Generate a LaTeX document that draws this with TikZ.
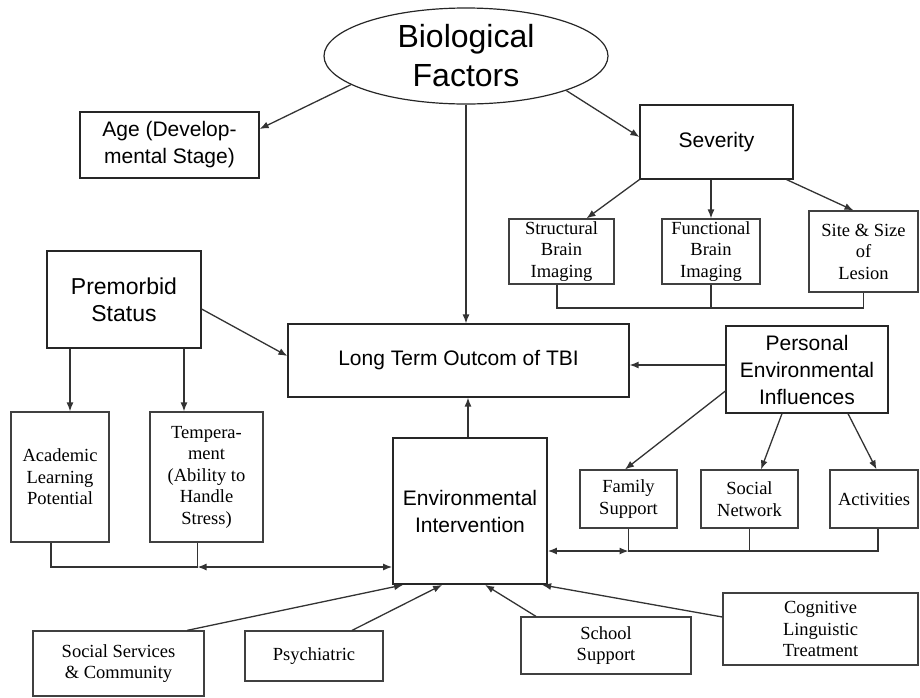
\documentclass[tikz,border=0pt]{standalone}
\usepackage{fontspec}
\setmainfont{Liberation Serif}
\setsansfont{Liberation Sans}
\usetikzlibrary{arrows.meta,shapes.geometric,calc}
\tikzstyle{factor}=[draw=black!85,line width=1.2pt,inner sep=0pt,align=center,font=\sffamily\fontsize{21}{27}\selectfont]
\tikzstyle{detail}=[factor,draw=black!75,font=\rmfamily\fontsize{18.5}{21.5}\selectfont]
\tikzstyle{wire}=[line width=1.3pt,draw=black!80]
\tikzstyle{link}=[wire,-{Latex[length=9pt,width=7pt]}]
\tikzstyle{both}=[wire,{Latex[length=9pt,width=7pt]}-{Latex[length=9pt,width=7pt]}]

\begin{document}
\begin{tikzpicture}[x=1pt,y=-1pt]
\useasboundingbox (0,0) rectangle (920,697);
        % main factors
        \node[factor,ellipse,inner sep=-10pt,minimum width=284pt,minimum height=96pt,font=\sffamily\fontsize{32}{39}\selectfont] (bio) at (466,56) {Biological\\Factors};
        \node[factor,minimum width=179pt,minimum height=66pt] (age) at (169.5,145) {Age (Develop-\\mental Stage)};
        \node[factor,minimum width=153pt,minimum height=74pt] (sev) at (716.5,142) {Severity};
        \node[factor,minimum width=154pt,minimum height=97pt,font=\sffamily\fontsize{23}{27}\selectfont] (prem) at (124,299.5) {Premorbid\\Status};
        \node[factor,minimum width=341pt,minimum height=73pt] (ltoc) at (458.5,360.5) {Long Term Outcom of TBI};
        \node[factor,minimum width=162pt,minimum height=87pt] (pers) at (807,369.5) {Personal\\Environmental\\Influences};
        \node[factor,line width=1.8pt,minimum width=154pt,minimum height=146pt] (envi) at (470,511) {Environmental\\Intervention};
        % details
        \node[detail,minimum width=105pt,minimum height=65pt] (struct) at (561.5,251.5) {Structural\\Brain\\Imaging};
        \node[detail,minimum width=98pt,minimum height=65pt] (func) at (711,251.5) {Functional\\Brain\\Imaging};
        \node[detail,minimum width=109pt,minimum height=81pt] (site) at (863.5,251.5) {Site \& Size\\of\\Lesion};
        \node[detail,minimum width=98pt,minimum height=130pt] (acad) at (60,477) {Academic\\Learning\\Potential};
        \node[detail,minimum width=113pt,minimum height=130pt] (temp) at (206.5,477) {Tempera-\\ment\\(Ability to\\Handle\\Stress)};
        \foreach \name/\x/\w/\txt in {fam/628.5/97/{Family\\Support}, soc/749.5/97/{Social\\Network}, act/874/88/Activities}
          \node[detail,minimum width=\w pt,minimum height=58pt] (\name) at (\x,499) {\txt};
        \node[detail,minimum width=171pt,minimum height=65pt] (ssc) at (118.5,663.5) {Social Services\\\& Community};
        \node[detail,minimum width=138pt,minimum height=50pt] (psy) at (314,656) {Psychiatric};
        \node[detail,minimum width=170pt,minimum height=57pt] (sch) at (606,645.5) {School\\Support};
        \node[detail,minimum width=195pt,minimum height=72pt] (cog) at (820.5,629) {Cognitive\\Linguistic\\Treatment};
        % biological factors
        \draw[link] (bio.194) -- ([yshift=16pt]age.east);
        \draw[link] (bio.-19) -- ([yshift=5pt]sev.west);
        \draw[link] (bio.south) -- (bio.south |- ltoc.north);
        \draw[link] (sev.south west) -- ([xshift=25pt]struct.north);
        \draw[link] (func.north |- sev.south) -- (func.north);
        \draw[link] ([xshift=-7pt]sev.south east) -- ([xshift=-10pt]site.north);
        \coordinate (brainbus) at (711,308);
        \draw[wire] ([xshift=-4.5pt]struct.south) |- (brainbus) -| (site.south);
        \draw[wire] (func.south) -- (brainbus);
        % premorbid status
        \draw[link] ([yshift=-9.5pt]prem.east) -- ([yshift=4.5pt]ltoc.west);
        \draw[link] ([xshift=-54pt]prem.south) -- ([xshift=10pt]acad.north);
        \draw[link] ([xshift=60pt]prem.south) -- ([xshift=-22.5pt]temp.north);
        \coordinate (tjoin) at (197.5,567);
        \draw[wire] ([xshift=-9pt]acad.south) |- (tjoin);
        \draw[wire] ([xshift=-9pt]temp.south) -- (tjoin);
        \draw[both] (tjoin) -- (tjoin -| envi.west);
        % personal influences
        \draw[link] ([yshift=4.5pt]pers.west) -- ([yshift=-4.5pt]ltoc.east);
        \draw[link] ([yshift=-21.5pt]pers.west) -- ([xshift=-3.5pt]fam.north);
        \draw[link] ([xshift=-25pt]pers.south) -- ([xshift=11.5pt]soc.north);
        \draw[link] ([xshift=41pt]pers.south) -- ([xshift=2.5pt]act.north);
        \coordinate (fjoin) at (628.5,551);
        \draw[both] (fjoin -| envi.east) -- (fjoin);
        \draw[wire] (fam.south) -- (fjoin) -| ([xshift=4pt]act.south);
        \draw[wire] (soc.south) -- (soc.south |- fjoin);
        % intervention
        \draw[link] ([xshift=-2pt]envi.north) -- ([xshift=9.5pt]ltoc.south);
        \draw[link] ([xshift=68.5pt]ssc.north) -- ([xshift=11pt]envi.south west);
        \draw[link] ([xshift=38pt]psy.north) -- ([xshift=50pt]envi.south west);
        \draw[link] ([xshift=-70pt]sch.north) -- ([xshift=93pt]envi.south west);
        \draw[link] ([yshift=12pt]cog.west) -- ([xshift=150pt]envi.south west);
      \end{tikzpicture}
\end{document}
